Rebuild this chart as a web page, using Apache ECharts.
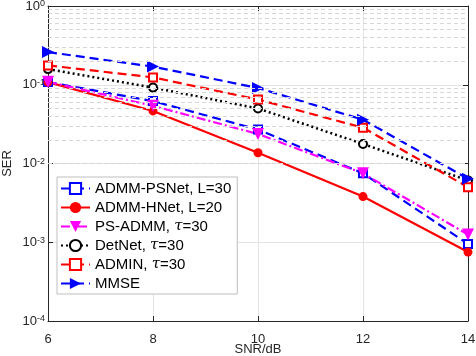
<!DOCTYPE html>
<html>
<head>
<meta charset="utf-8">
<script src="https://cdn.jsdelivr.net/npm/echarts@6/dist/echarts.min.js"></script>
<style>
  html, body { margin: 0; padding: 0; background: #fff; }
  #main { width: 476px; height: 356px; }
</style>
</head>
<body>
<div id="main"></div>
<script>
// x axis: SNR in dB
var snr = [6, 8, 10, 12, 14];
// SER per method
var admmPSNet = [0.108, 0.062, 0.027, 0.0075, 0.00095];
var admmHNet  = [0.108, 0.0465, 0.0137, 0.0038, 0.00075];
var psAdmm    = [0.109, 0.054, 0.0237, 0.0075, 0.00125];
var detNet    = [0.158, 0.092, 0.050, 0.0177, 0.0061];
var admin     = [0.176, 0.124, 0.065, 0.0285, 0.005];
var mmse      = [0.26, 0.17, 0.091, 0.036, 0.0064];

// minor log grid lines (2..9 x 10^k)
var minorGrid = [];
for (var k = -4; k < 0; k++) {
  for (var m = 2; m <= 9; m++) {
    minorGrid.push({ yAxis: m * Math.pow(10, k) });
  }
}

function pairs(ys) {
  var out = [];
  for (var i = 0; i < snr.length; i++) out.push([snr[i], ys[i]]);
  return out;
}

var myChart = echarts.init(document.getElementById('main'));
var fontFam = 'Liberation Sans, Arial, sans-serif';

var yLabel = {
  fontFamily: fontFam,
  color: '#262626',
  margin: 3,
  formatter: function (v) {
    var e = Math.round(Math.log10(v));
    return '{b|10}{sup|' + e + '}';
  },
  rich: {
    b: { fontSize: 13, fontFamily: fontFam, color: '#262626', verticalAlign: 'bottom', lineHeight: 13 },
    sup: { fontSize: 9, fontFamily: fontFam, color: '#262626', verticalAlign: 'top', lineHeight: 9, padding: [0, 0, 9, 0] }
  }
};

var option = {
  backgroundColor: '#fff',
  animation: false,
  grid: { left: 48, right: 8, top: 6, bottom: 35, containLabel: false, outerBoundsMode: 'none' },
  legend: {
    orient: 'vertical',
    left: 57,
    top: 177,
    padding: [4, 6, 3, 3],
    itemGap: 4,
    itemWidth: 29,
    itemHeight: 14,
    backgroundColor: '#fff',
    borderColor: '#bfbfbf',
    borderWidth: 1,
    textStyle: {
      fontFamily: fontFam,
      fontSize: 15,
      lineHeight: 15,
      color: '#000',
      rich: { i: { fontStyle: 'italic', fontFamily: 'DejaVu Serif, serif', fontSize: 15, lineHeight: 15 } }
    },
    formatter: function (name) {
      return name.replace('τ', '{i|τ}');
    },
    data: ['ADMM-PSNet, L=30', 'ADMM-HNet, L=20', 'PS-ADMM, τ=30', 'DetNet, τ=30', 'ADMIN, τ=30', 'MMSE']
  },
  xAxis: [{
    type: 'value',
    min: 6, max: 14, interval: 2,
    name: 'SNR/dB',
    nameLocation: 'middle',
    nameGap: 22,
    nameMoveOverlap: false,
    nameTextStyle: { fontFamily: fontFam, fontSize: 13, color: '#262626' },
    axisLine: { lineStyle: { color: '#262626', width: 1 } },
    axisTick: { inside: true, length: 5, lineStyle: { color: '#262626' } },
    axisLabel: { fontFamily: fontFam, fontSize: 13, color: '#262626', margin: 12 },
    splitLine: { show: true, lineStyle: { color: '#e3e3e3', width: 1 } }
  }, {
    type: 'value',
    position: 'top',
    min: 6, max: 14, interval: 2,
    axisLine: { lineStyle: { color: '#262626', width: 1 } },
    axisTick: { inside: true, length: 5, lineStyle: { color: '#262626' } },
    axisLabel: { show: false },
    splitLine: { show: false }
  }],
  yAxis: [{
    type: 'log',
    logBase: 10,
    min: 1e-4, max: 1,
    name: 'SER',
    nameLocation: 'middle',
    nameGap: 34,
    nameMoveOverlap: false,
    nameRotate: 90,
    nameTextStyle: { fontFamily: fontFam, fontSize: 13, color: '#262626' },
    axisLine: { show: true, lineStyle: { color: '#262626', width: 1 } },
    axisTick: { inside: true, length: 5, lineStyle: { color: '#262626' } },
    axisLabel: yLabel,
    splitLine: { show: true, lineStyle: { color: '#e3e3e3', width: 1 } }
  }, {
    type: 'log',
    logBase: 10,
    min: 1e-4, max: 1,
    position: 'right',
    axisLine: { show: true, lineStyle: { color: '#262626', width: 1 } },
    axisTick: { inside: true, length: 5, lineStyle: { color: '#262626' } },
    axisLabel: { show: false },
    splitLine: { show: false }
  }],
  series: [
    {
      name: 'minor grid',
      type: 'line',
      data: [],
      silent: true,
      z: 1,
      markLine: {
        silent: true,
        symbol: 'none',
        label: { show: false },
        lineStyle: { color: '#d6d6d6', type: [4, 3], width: 1 },
        data: minorGrid
      }
    },
    {
      name: 'ADMM-PSNet, L=30',
      type: 'line',
      data: pairs(admmPSNet),
      symbol: 'emptyRect',
      symbolSize: 8,
      color: '#0000ff',
      itemStyle: { color: '#0000ff', borderWidth: 2 },
      lineStyle: { color: '#0000ff', width: 2.2, type: [9, 5] }
    },
    {
      name: 'ADMM-HNet, L=20',
      type: 'line',
      data: pairs(admmHNet),
      symbol: 'circle',
      symbolSize: 9,
      color: '#ff0000',
      itemStyle: { color: '#ff0000' },
      lineStyle: { color: '#ff0000', width: 2.2, type: 'solid' }
    },
    {
      name: 'PS-ADMM, τ=30',
      type: 'line',
      data: pairs(psAdmm),
      symbol: 'triangle',
      symbolRotate: 180,
      symbolSize: 12,
      color: '#ff00ff',
      itemStyle: { color: '#ff00ff' },
      lineStyle: { color: '#ff00ff', width: 2.2, type: [9, 3, 2, 3] }
    },
    {
      name: 'DetNet, τ=30',
      type: 'line',
      data: pairs(detNet),
      symbol: 'emptyCircle',
      symbolSize: 8,
      color: '#000000',
      itemStyle: { color: '#000000', borderWidth: 2.2 },
      lineStyle: { color: '#000000', width: 2.5, type: [2, 3] }
    },
    {
      name: 'ADMIN, τ=30',
      type: 'line',
      data: pairs(admin),
      symbol: 'emptyRect',
      symbolSize: 8,
      color: '#ff0000',
      itemStyle: { color: '#ff0000', borderWidth: 2 },
      lineStyle: { color: '#ff0000', width: 2.2, type: [9, 5] }
    },
    {
      name: 'MMSE',
      type: 'line',
      data: pairs(mmse),
      symbol: 'triangle',
      symbolRotate: -90,
      symbolSize: 12,
      color: '#0000ff',
      itemStyle: { color: '#0000ff' },
      lineStyle: { color: '#0000ff', width: 2.2, type: [9, 5] }
    }
  ]
};

myChart.setOption(option);
</script>
</body>
</html>
